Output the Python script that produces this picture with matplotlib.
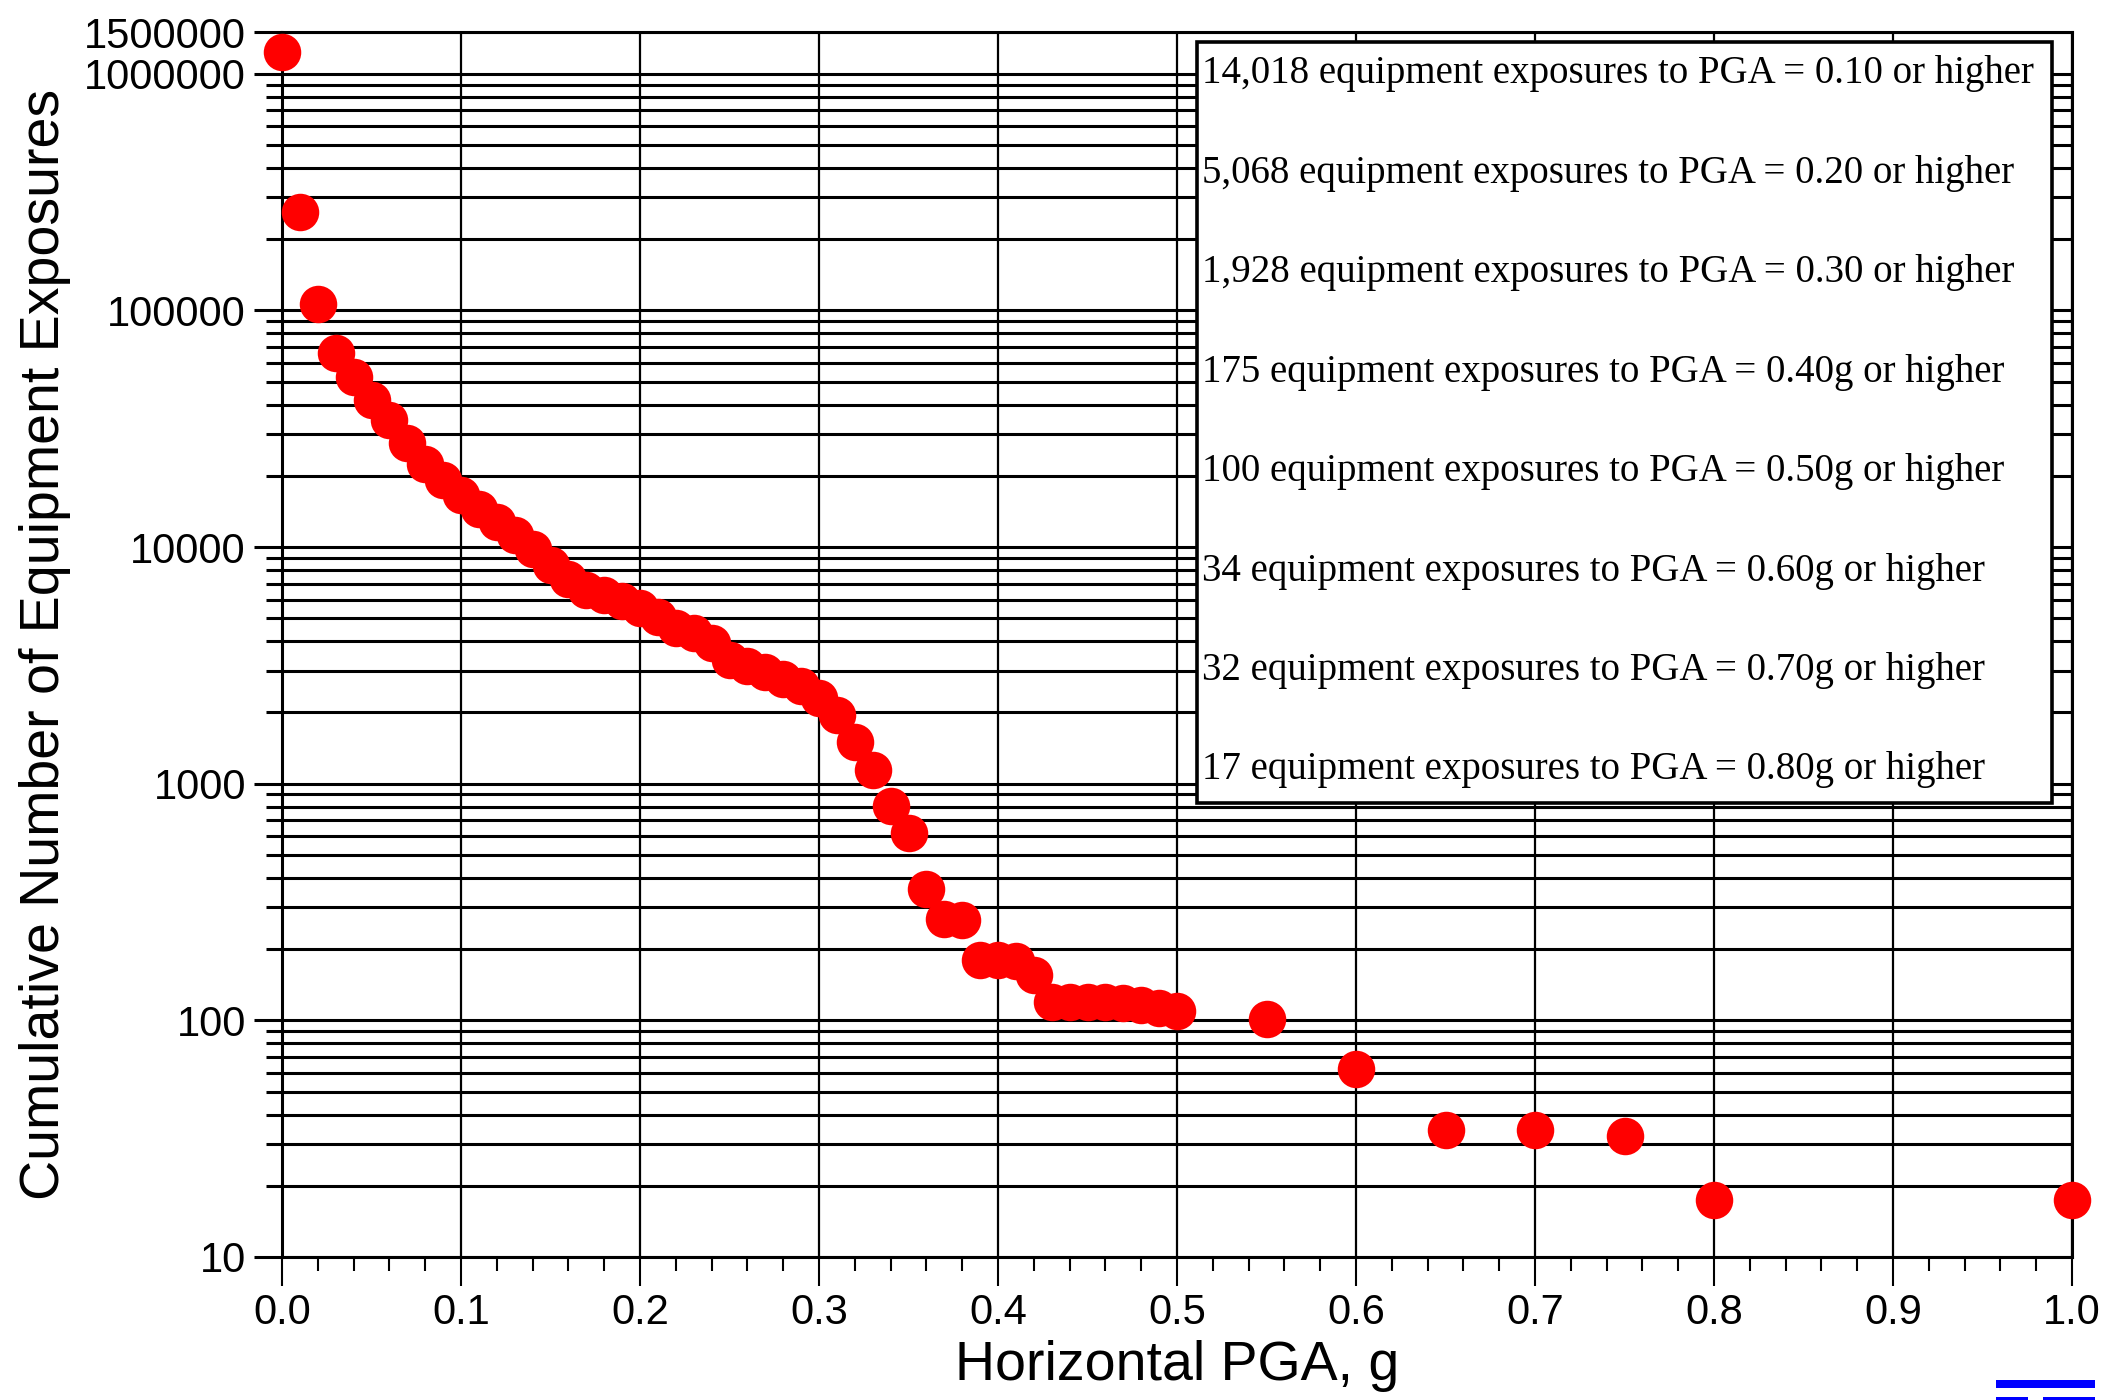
import matplotlib
matplotlib.use('Agg')
import matplotlib.pyplot as plt
from matplotlib.ticker import FixedLocator, FixedFormatter, NullFormatter
from matplotlib.patches import Rectangle

# ---------------- data ----------------
pga = [0.00, 0.01, 0.02, 0.03, 0.04, 0.05, 0.06, 0.07, 0.08, 0.09,
       0.10, 0.11, 0.12, 0.13, 0.14, 0.15, 0.16, 0.17, 0.18, 0.19,
       0.20, 0.21, 0.22, 0.23, 0.24, 0.25, 0.26, 0.27, 0.28, 0.29,
       0.30, 0.31, 0.32, 0.33, 0.34, 0.35, 0.36, 0.37, 0.38, 0.39,
       0.40, 0.41, 0.42, 0.43, 0.44, 0.45, 0.46, 0.47, 0.48, 0.49,
       0.50, 0.55, 0.60, 0.65, 0.70, 0.75, 0.80, 1.00]
exposures = [1230000, 260000, 106000, 66000, 52500, 41800, 34400, 27400, 22500, 19100,
             16600, 14500, 12800, 11200, 9840, 8400, 7300, 6600, 6270, 5900,
             5510, 5050, 4560, 4330, 3920, 3340, 3140, 2960, 2770, 2590,
             2300, 1950, 1505, 1145, 804, 621, 359, 267, 265, 179,
             179, 178, 155, 120, 120, 120, 120, 118, 116, 113,
             109, 101, 62, 34.5, 34.5, 32.4, 17.4, 17.4]

ytick_values = [10, 100, 1000, 10000, 100000, 1000000, 1500000]
ytick_labels = ['10', '100', '1000', '10000', '100000', '1000000', '1500000']
xtick_values = [0.0, 0.1, 0.2, 0.3, 0.4, 0.5, 0.6, 0.7, 0.8, 0.9, 1.0]
xtick_labels = ['0.0', '0.1', '0.2', '0.3', '0.4', '0.5', '0.6', '0.7', '0.8', '0.9', '1.0']
xminor_values = [0.02, 0.04, 0.06, 0.08, 0.12, 0.14, 0.16, 0.18, 0.22, 0.24, 0.26, 0.28,
                 0.32, 0.34, 0.36, 0.38, 0.42, 0.44, 0.46, 0.48, 0.52, 0.54, 0.56, 0.58,
                 0.62, 0.64, 0.66, 0.68, 0.72, 0.74, 0.76, 0.78, 0.82, 0.84, 0.86, 0.88,
                 0.92, 0.94, 0.96, 0.98]
yminor_values = [m * d for d in [10, 100, 1000, 10000, 100000] for m in range(2, 10)]

legend_lines = [
    "14,018 equipment exposures to PGA = 0.10 or higher",
    "5,068 equipment exposures to PGA = 0.20 or higher",
    "1,928 equipment exposures to PGA = 0.30 or higher",
    "175 equipment exposures to PGA = 0.40g or higher",
    "100 equipment exposures to PGA = 0.50g or higher",
    "34 equipment exposures to PGA = 0.60g or higher",
    "32 equipment exposures to PGA = 0.70g or higher",
    "17 equipment exposures to PGA = 0.80g or higher",
]

xlabel = "Horizontal PGA, g"
ylabel = "Cumulative Number of Equipment Exposures"

# ---------------- figure ----------------
W, H = 2105, 1400
fig = plt.figure(figsize=(W / 100, H / 100), dpi=100)
fig.patch.set_facecolor('white')

ax_l, ax_r, ax_t, ax_b = 282, 2072, 32, 1257
ax = fig.add_axes([ax_l / W, 1 - ax_b / H, (ax_r - ax_l) / W, (ax_b - ax_t) / H])

ax.set_yscale('log')
ax.set_xlim(0.0, 1.0)
ax.set_ylim(10, 1500000)

sans = ['Liberation Sans', 'DejaVu Sans']
serif = ['Liberation Serif', 'DejaVu Serif']

# ticks
ax.yaxis.set_major_locator(FixedLocator(ytick_values))
ax.yaxis.set_major_formatter(FixedFormatter(ytick_labels))
ax.yaxis.set_minor_locator(FixedLocator(yminor_values))
ax.yaxis.set_minor_formatter(NullFormatter())
ax.xaxis.set_major_locator(FixedLocator(xtick_values))
ax.xaxis.set_major_formatter(FixedFormatter(xtick_labels))
ax.xaxis.set_minor_locator(FixedLocator(xminor_values))

ax.tick_params(axis='y', which='major', direction='out', length=20, width=2.2,
               pad=6, labelsize=30)
ax.tick_params(axis='y', which='minor', direction='out', length=11.5, width=2.2)
ax.tick_params(axis='x', which='major', direction='out', length=21, width=1.5,
               pad=5, labelsize=30)
ax.tick_params(axis='x', which='minor', direction='out', length=10, width=1.5)
for lab in ax.get_xticklabels() + ax.get_yticklabels():
    lab.set_family(sans)

# grid
ax.grid(True, axis='y', which='both', color='black', linewidth=2.2, zorder=1)
ax.grid(True, axis='x', which='major', color='black', linewidth=1.6, zorder=1)
ax.set_axisbelow(True)
for s in ax.spines.values():
    s.set_linewidth(2.2)
    s.set_color('black')

# data
ax.plot(pga, exposures, linestyle='none', marker='o', markersize=27,
        markerfacecolor='#ff0000', markeredgecolor='#ff0000', markeredgewidth=0,
        clip_on=False, zorder=3)

# labels
ax.set_xlabel(xlabel, fontsize=40, family=sans)
ax.set_ylabel(ylabel, fontsize=40, family=sans)
ax.xaxis.set_label_coords(0.5, -0.068)
ax.yaxis.set_label_coords(-0.118, 0.5)

# text box
bx0 = (1197 - ax_l) / (ax_r - ax_l)
bx1 = (2052 - ax_l) / (ax_r - ax_l)
by0 = (ax_b - 803) / (ax_b - ax_t)
by1 = (ax_b - 42) / (ax_b - ax_t)
ax.add_patch(Rectangle((bx0, by0), bx1 - bx0, by1 - by0, transform=ax.transAxes,
                       facecolor='white', edgecolor='black', linewidth=2.6,
                       zorder=5, clip_on=False))
tx = (1202 - ax_l) / (ax_r - ax_l)
for i, line in enumerate(legend_lines):
    yc = 74 + i * 99.4
    ax.text(tx, (ax_b - yc) / (ax_b - ax_t), line, transform=ax.transAxes,
            fontsize=28, family=serif, ha='left', va='center', zorder=6)

# blue fragment in bottom-right corner
for (x0, y0, x1, y1) in [(1996, 1380, 2095, 1388), (1996, 1397, 2028, 1400), (2043, 1397, 2095, 1400)]:
    fig.add_artist(Rectangle((x0 / W, 1 - y1 / H), (x1 - x0) / W, (y1 - y0) / H,
                             transform=fig.transFigure, facecolor='#0000ff',
                             edgecolor='none'))

fig.savefig('out.png', dpi=100, facecolor='white')
